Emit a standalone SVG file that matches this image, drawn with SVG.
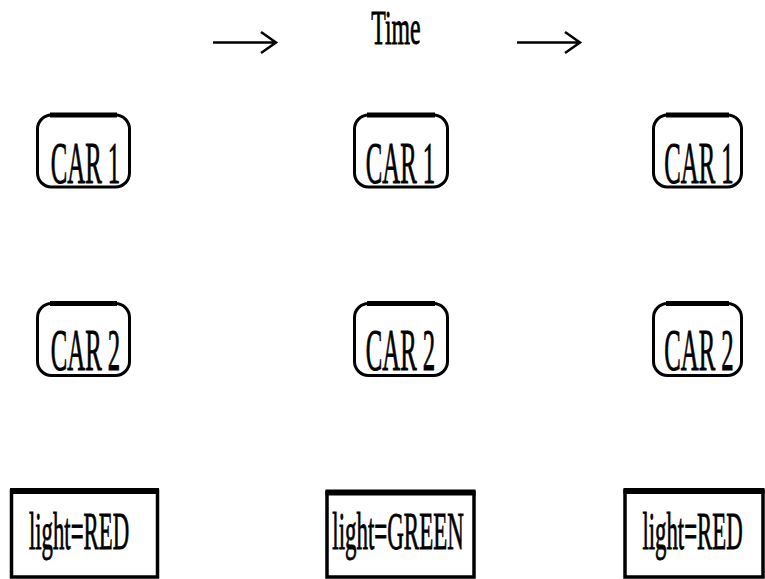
<svg xmlns="http://www.w3.org/2000/svg" width="765" height="579" viewBox="0 0 765 579">
  <style>
    .lbl { font-family: "Liberation Serif", "Times New Roman", serif; fill: #000; stroke: #000; stroke-width: 0.9; text-anchor: middle; }
    .car { fill: #fff; stroke: #000; stroke-width: 3; }
    .cartop { fill: none; stroke: #000; stroke-width: 5; }
    .light { fill: #fff; stroke: #000; stroke-width: 3.5; }
    .lighttop { fill: none; stroke: #000; stroke-width: 6; }
    .arrow { fill: none; stroke: #000; stroke-width: 2.5; }
  </style>

  <!-- time axis -->
  <g id="time-label">
    <text class="lbl" font-size="48.5" transform="translate(396 43.5) scale(0.49 1)">Time</text>
  </g>
  <g id="connectors">
    <path class="arrow" d="M213 42.5 H276 M261 32 L276 42.5 L261 53"/>
    <path class="arrow" d="M517 42.5 H580 M565 32 L580 42.5 L565 53"/>
  </g>

  <!-- column 1 -->
  <g id="car1-t1">
    <rect class="car" x="37.5" y="115" width="92" height="72" rx="14"/>
    <path class="cartop" d="M50 115 H117"/>
    <text class="lbl" font-size="59" transform="translate(85.5 182.5) scale(0.42 1)">CAR 1</text>
  </g>
  <g id="car2-t1">
    <rect class="car" x="37.5" y="303.5" width="92" height="72" rx="14"/>
    <path class="cartop" d="M50 303.5 H117"/>
    <text class="lbl" font-size="59" transform="translate(85.5 370) scale(0.42 1)">CAR 2</text>
  </g>
  <g id="light-t1">
    <rect class="light" x="11.5" y="491" width="146" height="86"/>
    <path class="lighttop" d="M10 491 H159"/>
    <text class="lbl" font-size="53" transform="translate(79 549) scale(0.43 1)">light=RED</text>
  </g>

  <!-- column 2 -->
  <g id="car1-t2">
    <rect class="car" x="354.5" y="115" width="93" height="72" rx="14"/>
    <path class="cartop" d="M367 115 H435"/>
    <text class="lbl" font-size="59" transform="translate(400.5 182.5) scale(0.42 1)">CAR 1</text>
  </g>
  <g id="car2-t2">
    <rect class="car" x="354.5" y="303.5" width="93" height="72" rx="14"/>
    <path class="cartop" d="M367 303.5 H435"/>
    <text class="lbl" font-size="59" transform="translate(400.5 370) scale(0.42 1)">CAR 2</text>
  </g>
  <g id="light-t2">
    <rect class="light" x="327" y="492.5" width="147" height="84.5"/>
    <path class="lighttop" d="M325.5 492.5 H475.5"/>
    <text class="lbl" font-size="53" transform="translate(398 549) scale(0.433 1)">light=GREEN</text>
  </g>

  <!-- column 3 -->
  <g id="car1-t3">
    <rect class="car" x="653.5" y="115" width="88" height="72" rx="14"/>
    <path class="cartop" d="M666 115 H729"/>
    <text class="lbl" font-size="59" transform="translate(699 182.5) scale(0.42 1)">CAR 1</text>
  </g>
  <g id="car2-t3">
    <rect class="car" x="653.5" y="303.5" width="88" height="72" rx="14"/>
    <path class="cartop" d="M666 303.5 H729"/>
    <text class="lbl" font-size="59" transform="translate(699 370) scale(0.42 1)">CAR 2</text>
  </g>
  <g id="light-t3">
    <rect class="light" x="625" y="491" width="138" height="86"/>
    <path class="lighttop" d="M623.5 491 H764.5"/>
    <text class="lbl" font-size="53" transform="translate(692.5 549) scale(0.43 1)">light=RED</text>
  </g>
</svg>
